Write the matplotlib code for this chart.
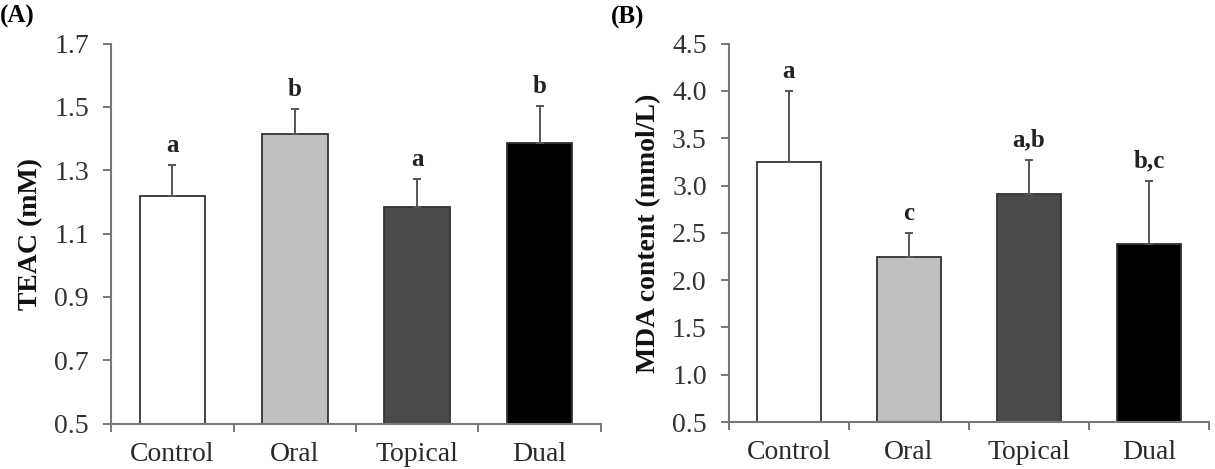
import numpy as np
import matplotlib
matplotlib.use('Agg')
import matplotlib.pyplot as plt
from matplotlib.ticker import FixedLocator

plt.rcParams['font.family'] = ['Liberation Serif', 'DejaVu Serif']

groups = ['Control', 'Oral', 'Topical', 'Dual']
colors = ['#ffffff', '#c0c0c0', '#4a4a4a', '#000000']

# panel A - TEAC
teac_mean = [1.22, 1.415, 1.185, 1.385]
teac_err = [0.095, 0.078, 0.087, 0.117]
teac_letters = ['a', 'b', 'a', 'b']
teac_ticks = [0.5, 0.7, 0.9, 1.1, 1.3, 1.5, 1.7]

# panel B - MDA
mda_mean = [3.25, 2.24, 2.91, 2.38]
mda_err = [0.75, 0.26, 0.36, 0.67]
mda_letters = ['a', 'c', 'a,b', 'b,c']
mda_ticks = [0.5, 1.0, 1.5, 2.0, 2.5, 3.0, 3.5, 4.0, 4.5]


def draw_panel(ax, means, errs, letters, yticks, ylabel):
    x = np.arange(len(groups))
    base = yticks[0]
    ax.bar(x, np.array(means) - base, bottom=base, width=0.535, color=colors,
           edgecolor='#333333', linewidth=1.3, zorder=2)
    ax.errorbar(x, means, yerr=[np.zeros(len(errs)), errs], fmt='none',
                ecolor='#555555', elinewidth=1.4, capsize=3, capthick=1.4, zorder=3)
    for xi, m, e, lab in zip(x, means, errs, letters):
        ax.annotate(lab, (xi, m + e), xytext=(0, 6), textcoords='offset points',
                    ha='center', va='bottom', fontsize=18, fontweight='bold', color='#222222')

    ax.set_xlim(-0.5, len(groups) - 0.5)
    ax.set_ylim(yticks[0], yticks[-1])
    ax.set_yticks(yticks)
    ax.set_yticklabels(['{:.1f}'.format(t) for t in yticks])
    ax.set_xticks(x)
    ax.set_xticklabels(groups)
    ax.xaxis.set_minor_locator(FixedLocator(np.arange(-0.5, len(groups), 1.0)))
    ax.tick_params(axis='x', which='major', length=0, pad=13, labelsize=20, colors='#2a2a2a')
    ax.tick_params(axis='x', which='minor', length=6, width=1.4, color='#777777', direction='out')
    ax.tick_params(axis='y', length=6, width=1.4, color='#777777', direction='out',
                   labelsize=20, labelcolor='#333333', pad=10)
    for s in ['top', 'right']:
        ax.spines[s].set_visible(False)
    for s in ['left', 'bottom']:
        ax.spines[s].set_color('#777777')
        ax.spines[s].set_linewidth(1.5)
    ax.set_ylabel(ylabel, fontsize=20, fontweight='bold', color='#111111', labelpad=8)


fig = plt.figure(figsize=(12.15, 4.69), dpi=100)
ax1 = fig.add_axes([0.0915, 0.097, 0.403, 0.81])
ax2 = fig.add_axes([0.600, 0.100, 0.395, 0.807])

draw_panel(ax1, teac_mean, teac_err, teac_letters, teac_ticks, 'TEAC (mM)')
draw_panel(ax2, mda_mean, mda_err, mda_letters, mda_ticks, 'MDA content (mmol/L)')

fig.text(0.0, 0.965, '(A)', fontsize=18, fontweight='bold', va='center', ha='left')
fig.text(0.503, 0.962, '(B)', fontsize=18, fontweight='bold', va='center', ha='left')

fig.savefig('out.png', dpi=100)
